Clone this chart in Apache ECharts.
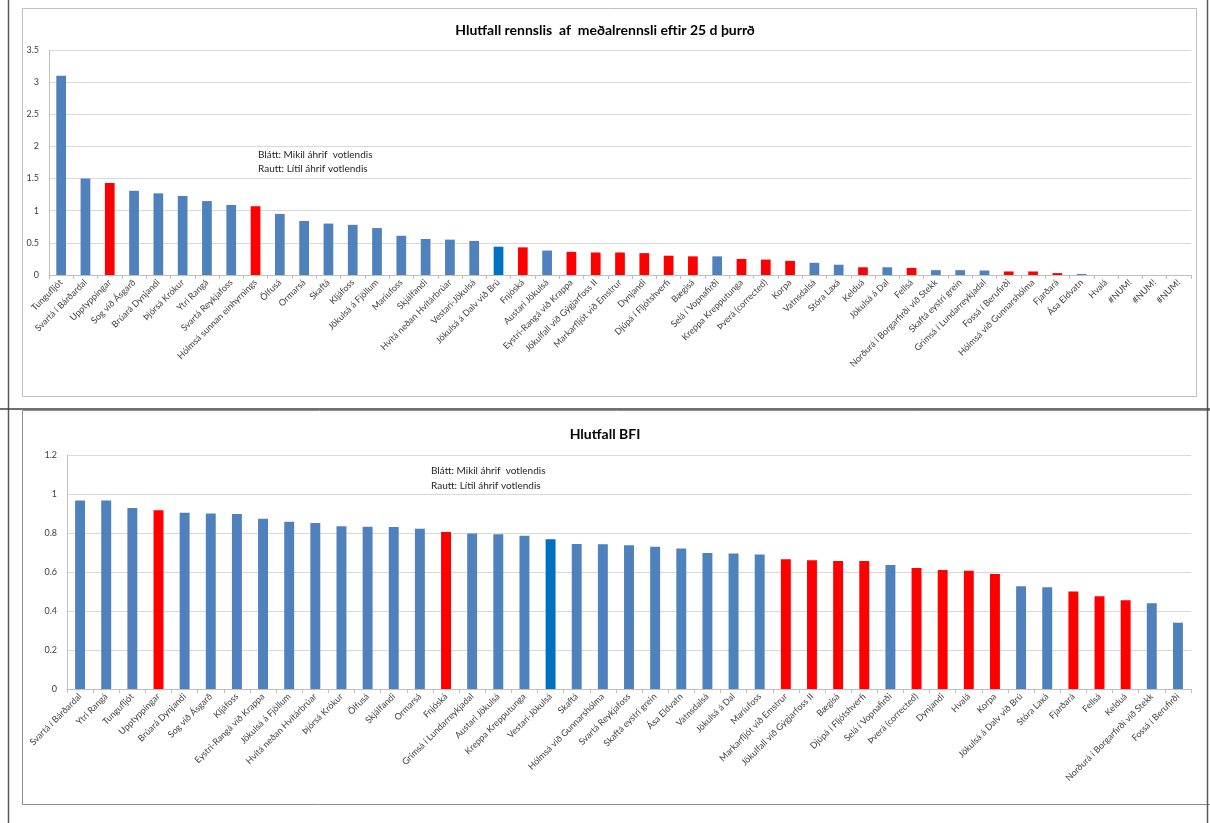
<!DOCTYPE html>
<html>
<head>
<meta charset="utf-8">
<script src="https://cdn.jsdelivr.net/npm/echarts@6/dist/echarts.min.js"></script>
<style>
  html, body { margin: 0; padding: 0; background: #fff; }
  #chart { width: 1210px; height: 823px; }
</style>
</head>
<body>
<div id="chart"></div>
<script>
// Hlutfall rennslis af meðalrennsli eftir 25 d þurrð
const flowNames = [
  'Tungufljót', 'Svartá í Bárðardal', 'Upptyppingar', 'Sog við Ásgarð', 'Brúará Dynjandi',
  'Þjórsá Krókur', 'Ytri Rangá', 'Svartá Reykjafoss', 'Hólmsá sunnan einhyrnings', 'Ölfusá',
  'Ormarsá', 'Skaftá', 'Kljáfoss', 'Jökulsá á Fjöllum', 'Maríufoss', 'Skjálfandi',
  'Hvítá neðan Hvítárbrúar', 'Vestari-Jökulsá', 'Jökulsá á Dalv við Brú', 'Fnjóská',
  'Austari Jökulsá', 'Eystri-Rangá við Krappa', 'Jökulfall við Gýgjarfoss II',
  'Markarfljót við Emstrur', 'Dynjandi', 'Djúpá í Fljótshverfi', 'Bægisá', 'Selá í Vopnafirði',
  'Kreppa Krepputunga', 'Þverá (corrected)', 'Korpa', 'Vatnsdalsá', 'Stóra Laxá', 'Kelduá',
  'Jökulsá á Dal', 'Fellsá', 'Norðurá í Borgarfirði við Stekk', 'Skaftá eystri grein',
  'Grímsá í Lundarreykjadal', 'Fossá í Berufirði', 'Hólmsá við Gunnarshólma', 'Fjarðará',
  'Ása Eldvatn', 'Hvalá', '#NUM!', '#NUM!', '#NUM!'
];
const flowValues = [
  3.10, 1.50, 1.43, 1.31, 1.27, 1.23, 1.15, 1.09, 1.07, 0.95,
  0.84, 0.80, 0.78, 0.73, 0.61, 0.56, 0.55, 0.53, 0.44, 0.43,
  0.38, 0.36, 0.35, 0.35, 0.34, 0.30, 0.29, 0.29, 0.25, 0.24,
  0.22, 0.19, 0.16, 0.12, 0.12, 0.11, 0.075, 0.075, 0.07, 0.055,
  0.055, 0.03, 0.015, 0, 0, 0, 0
];
// b = mikil áhrif votlendis, r = lítil áhrif, d = dökkblár
const flowGroups = [
  'b', 'b', 'r', 'b', 'b', 'b', 'b', 'b', 'r', 'b',
  'b', 'b', 'b', 'b', 'b', 'b', 'b', 'b', 'd', 'r',
  'b', 'r', 'r', 'r', 'r', 'r', 'r', 'b', 'r', 'r',
  'r', 'b', 'b', 'r', 'b', 'r', 'b', 'b', 'b', 'r',
  'r', 'r', 'b', 'b', 'b', 'b', 'b'
];
const flowTicks = [0, 0.5, 1, 1.5, 2, 2.5, 3, 3.5];

// Hlutfall BFI
const bfiNames = [
  'Svartá í Bárðardal', 'Ytri Rangá', 'Tungufljót', 'Upptyppingar', 'Brúará Dynjandi',
  'Sog við Ásgarð', 'Kljáfoss', 'Eystri-Rangá við Krappa', 'Jökulsá á Fjöllum',
  'Hvítá neðan Hvítárbrúar', 'Þjórsá Krókur', 'Ölfusá', 'Skjálfandi', 'Ormarsá', 'Fnjóská',
  'Grímsá í Lundarreykjadal', 'Austari Jökulsá', 'Kreppa Krepputunga', 'Vestari-Jökulsá',
  'Skaftá', 'Hólmsá við Gunnarshólma', 'Svartá Reykjafoss', 'Skaftá eystri grein',
  'Ása Eldvatn', 'Vatnsdalsá', 'Jökulsá á Dal', 'Maríufoss', 'Markarfljót við Emstrur',
  'Jökulfall við Gýgjarfoss II', 'Bægisá', 'Djúpá í Fljótshverfi', 'Selá í Vopnafirði',
  'Þverá (corrected)', 'Dynjandi', 'Hvalá', 'Korpa', 'Jökulsá á Dalv við Brú', 'Stóra Laxá',
  'Fjarðará', 'Fellsá', 'Kelduá', 'Norðurá í Borgarfirði við Stekk', 'Fossá í Berufirði'
];
const bfiValues = [
  0.967, 0.967, 0.928, 0.917, 0.904, 0.900, 0.897, 0.873, 0.858, 0.851,
  0.834, 0.832, 0.831, 0.822, 0.805, 0.797, 0.793, 0.786, 0.768, 0.744,
  0.742, 0.737, 0.730, 0.720, 0.697, 0.695, 0.690, 0.665, 0.660, 0.657,
  0.657, 0.636, 0.620, 0.610, 0.607, 0.590, 0.527, 0.522, 0.500, 0.476,
  0.455, 0.440, 0.340
];
const bfiGroups = [
  'b', 'b', 'b', 'r', 'b', 'b', 'b', 'b', 'b', 'b',
  'b', 'b', 'b', 'b', 'r', 'b', 'b', 'b', 'd', 'b',
  'b', 'b', 'b', 'b', 'b', 'b', 'b', 'r', 'r', 'r',
  'r', 'b', 'r', 'r', 'r', 'r', 'b', 'b', 'r', 'r',
  'r', 'b', 'b'
];
const bfiTicks = [0, 0.2, 0.4, 0.6, 0.8, 1, 1.2];

const groupColors = { b: '#4F81BD', r: '#FF0000', d: '#0070C0' };
const fontFamily = 'Lato, "Liberation Sans", sans-serif';

function barData(values, groups) {
  return values.map((v, i) => ({
    value: v,
    itemStyle: { color: groupColors[groups[i]] }
  }));
}

function categoryAxis(gridIndex, names) {
  return {
    type: 'category',
    gridIndex: gridIndex,
    data: names,
    axisLine: { lineStyle: { color: '#BFBFBF', width: 1 } },
    axisTick: { show: true, length: 4, lineStyle: { color: '#BFBFBF' } },
    axisLabel: {
      interval: 0,
      rotate: 45,
      fontSize: 9,
      fontFamily: fontFamily,
      color: '#404040',
      margin: 6
    }
  };
}

function valueAxis(gridIndex, ticks) {
  return {
    type: 'value',
    gridIndex: gridIndex,
    min: ticks[0],
    max: ticks[ticks.length - 1],
    interval: ticks[1] - ticks[0],
    axisLine: { show: true, lineStyle: { color: '#BFBFBF' } },
    axisTick: { show: false },
    splitLine: { lineStyle: { color: '#D9D9D9', width: 1 } },
    axisLabel: {
      fontSize: 9,
      fontFamily: fontFamily,
      color: '#404040',
      margin: 10,
      formatter: v => String(Math.round(v * 10) / 10)
    }
  };
}

const chart = echarts.init(document.getElementById('chart'), null, { renderer: 'canvas' });

const noteStyle = { fontSize: 10, fontFamily: fontFamily, fill: '#262626' };

chart.setOption({
  animation: false,
  backgroundColor: '#ffffff',
  title: [
    {
      text: 'Hlutfall rennslis  af  meðalrennsli eftir 25 d þurrð',
      left: 'center',
      top: 18,
      textStyle: { fontSize: 14, fontWeight: 'bold', fontFamily: fontFamily, color: '#000' }
    },
    {
      text: 'Hlutfall BFI',
      left: 'center',
      top: 422,
      textStyle: { fontSize: 14, fontWeight: 'bold', fontFamily: fontFamily, color: '#000' }
    }
  ],
  grid: [
    { left: 49, right: 19, top: 50, height: 225, containLabel: false },
    { left: 67, right: 19, top: 455, height: 234, containLabel: false }
  ],
  xAxis: [categoryAxis(0, flowNames), categoryAxis(1, bfiNames)],
  yAxis: [valueAxis(0, flowTicks), valueAxis(1, bfiTicks)],
  series: [
    {
      type: 'bar',
      xAxisIndex: 0,
      yAxisIndex: 0,
      barWidth: '40%',
      data: barData(flowValues, flowGroups)
    },
    {
      type: 'bar',
      xAxisIndex: 1,
      yAxisIndex: 1,
      barWidth: '38%',
      data: barData(bfiValues, bfiGroups)
    }
  ],
  graphic: [
    // chart frames
    { type: 'rect', shape: { x: 22.5, y: 8.5, width: 1174, height: 388 },
      style: { fill: 'none', stroke: '#BFBFBF', lineWidth: 1 }, silent: true },
    { type: 'rect', shape: { x: 22.5, y: 410.5, width: 1200, height: 394 },
      style: { fill: 'none', stroke: '#8C8C8C', lineWidth: 1 }, silent: true },
    // table rules around the panels
    { type: 'line', shape: { x1: 8.5, y1: 0, x2: 8.5, y2: 823 },
      style: { stroke: '#595959', lineWidth: 1.5 }, silent: true },
    { type: 'line', shape: { x1: 1207.5, y1: 0, x2: 1207.5, y2: 823 },
      style: { stroke: '#595959', lineWidth: 1.5 }, silent: true },
    { type: 'line', shape: { x1: 0, y1: 409, x2: 1210, y2: 409 },
      style: { stroke: '#404040', lineWidth: 1.5 }, silent: true },
    // notes
    { type: 'text', left: 258, top: 150, style: Object.assign({ text: 'Blátt: Mikil áhrif  votlendis' }, noteStyle), silent: true },
    { type: 'text', left: 258, top: 164, style: Object.assign({ text: 'Rautt: Lítil áhrif votlendis' }, noteStyle), silent: true },
    { type: 'text', left: 431, top: 466, style: Object.assign({ text: 'Blátt: Mikil áhrif  votlendis' }, noteStyle), silent: true },
    { type: 'text', left: 431, top: 481, style: Object.assign({ text: 'Rautt: Lítil áhrif votlendis' }, noteStyle), silent: true }
  ]
});
</script>
</body>
</html>
